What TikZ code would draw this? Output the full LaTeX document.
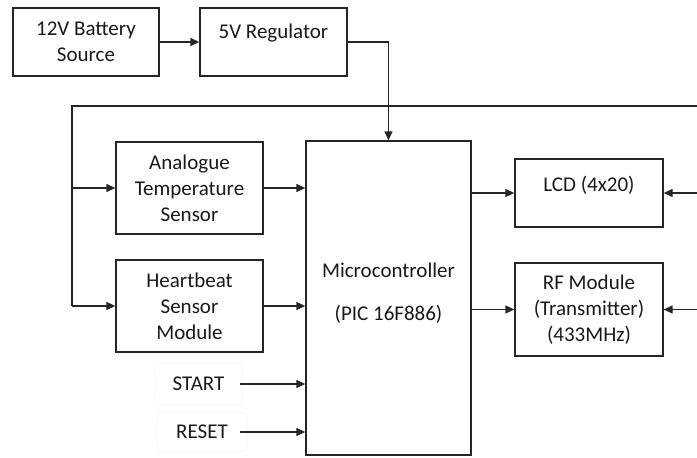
\documentclass[tikz,border=0pt]{standalone}
\usepackage{fontspec}
\setmainfont{Carlito}
\usetikzlibrary{arrows.meta,calc}
\tikzset{
  blk/.style={draw=black!85, line width=1.3pt, rectangle, align=center, inner sep=0pt,
    font=\fontsize{21}{26}\selectfont, text=black!90},
  faint/.style={draw=black!4, line width=0.8pt, rounded corners=6pt, inner sep=0pt,
    font=\fontsize{21}{26}\selectfont, text=black!90},
  wire/.style={draw=black!85, line width=1.3pt},
  arr/.style={wire, -{Triangle[length=9pt,width=8pt]}}
}
\newcommand{\shiftedtext}[2]{\raisebox{#1}[0pt][0pt]{#2}}
\begin{document}
\begin{tikzpicture}[x=1pt,y=-1pt]
\useasboundingbox (0,0) rectangle (697,458);
\node[blk, minimum width=146pt, minimum height=68pt] (bat) at (86,42) {\shiftedtext{-6.5pt}{\begin{tabular}{c}12V Battery\\Source\end{tabular}}};
\node[blk, minimum width=147pt, minimum height=68pt] (reg) at (273.5,42) {\shiftedtext{4pt}{5V Regulator}};
\node[blk, minimum width=165pt, minimum height=314pt] (mc) at (388.5,298)
  {\shiftedtext{-1pt}{\begin{tabular}{c}Microcontroller\\[17pt](PIC 16F886)\end{tabular}}};
\node[blk, minimum width=148pt, minimum height=68pt] (lcd) at (589,193) {\shiftedtext{2pt}{LCD (4x20)}};
\node[blk, minimum width=148pt, minimum height=93pt] (rf) at (589,309.5) {RF Module\\(Transmitter)\\(433MHz)};
\node[blk, minimum width=147pt, minimum height=92pt] (an) at (189.5,188) {Analogue\\Temperature\\Sensor};
\node[blk, minimum width=147pt, minimum height=92pt] (hb) at (189.5,306) {Heartbeat\\Sensor\\Module};
\node[faint, minimum width=87pt, minimum height=42pt] (st) at (198.5,384) {START};
\node[faint, minimum width=90pt, minimum height=40pt] (rs) at (202,432) {RESET};
\coordinate (tl) at (72,106);
\coordinate (tr) at (697,106);
\coordinate (r1) at (697,193);
\coordinate (r2) at (697,309.5);
% connectors
\draw[arr] (bat.east) -- (reg.west);
\draw[arr] (reg.east) -| (mc.north);
\draw[wire] (tr) -- (tl) -- (tl |- hb.west);
\draw[arr] (tl |- an.west) -- (an.west);
\draw[arr] (tl |- hb.west) -- (hb.west);
\draw[arr] (an.east) -- (an.east -| mc.west);
\draw[arr] (hb.east) -- (hb.east -| mc.west);
\draw[arr] ([xshift=-2pt]st.east) -- (st.east -| mc.west);
\draw[arr] ([xshift=-7pt]rs.east) -- (rs.east -| mc.west);
\draw[arr] (mc.east |- lcd.west) -- (lcd.west);
\draw[arr] (mc.east |- rf.west) -- (rf.west);
\draw[arr] (r1) -- (lcd.east);
\draw[arr] (r2) -- (rf.east);
\end{tikzpicture}
\end{document}
